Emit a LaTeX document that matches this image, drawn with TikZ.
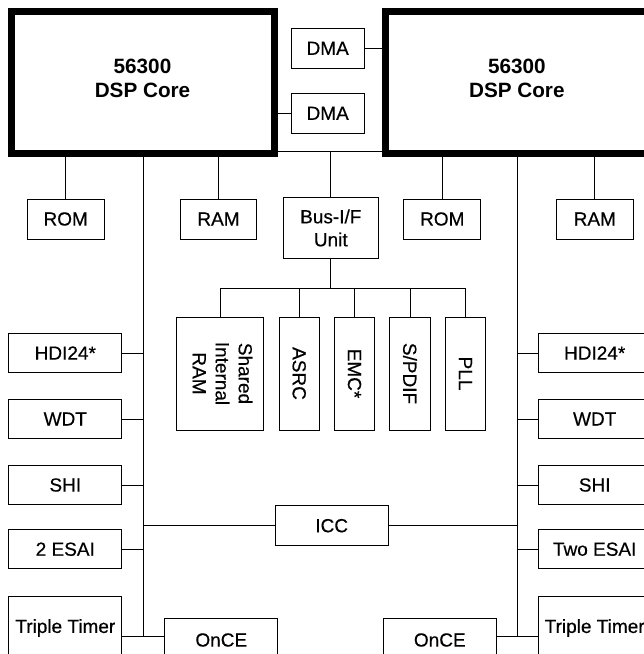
\documentclass[tikz,border=0pt]{standalone}
\usepackage{fontspec}
\setmainfont{Liberation Sans}
\newfontfamily\medfont{Liberation Sans}[FakeBold=0.45]
\usepackage{tikz}

\begin{document}
\begin{tikzpicture}[x=1pt, y=-1pt,
    blk/.style={draw, line width=1pt, inner sep=0pt, align=center,
        font=\medfont\fontsize{19}{23}\selectfont},
    core/.style={draw, line width=7pt, inner sep=0pt,
        minimum width=263pt, minimum height=142pt},
    corelbl/.style={align=center, inner sep=0pt,
        font=\fontsize{20.7}{24}\selectfont\bfseries},
    mem/.style={blk, minimum width=76.7pt, minimum height=40pt},
    per/.style={blk, minimum width=112.7pt, minimum height=39.4pt},
    sub/.style={blk, minimum width=40.3pt, minimum height=113pt},
    wire/.style={line width=1pt}]
    \useasboundingbox (0,0) rectangle (644,654);

    % Cores
    \node[core] (core1) at (142.5,82.7) {};
    \node[core] (core2) at (516.8,82.7) {};
    \node[corelbl] (lbl1) at ([yshift=4pt]core1.center) {56300\\DSP Core};
    \node[corelbl] (lbl2) at ([yshift=4pt]core2.center) {56300\\DSP Core};

    % DMA
    \node[blk, minimum width=73.3pt, minimum height=40pt] (dma1) at (327.7,48.3) {DMA};
    \node[blk, minimum width=73.3pt, minimum height=40pt] (dma2) at (327.7,113.3) {DMA};
    \draw[wire] (dma1.east) -- (dma1.east -| core2.west);
    \draw[wire] (dma2.west) -- (dma2.west -| core1.east);

    % Bus between the cores
    \coordinate (bus) at (330.8,151);
    \draw[wire] (core1.east |- bus) -- (core2.west |- bus);

    % Memories
    \node[mem] (rom1) at (65.7,219) {ROM};
    \node[mem] (ram1) at (218.5,219) {RAM};
    \node[mem] (rom2) at (442.3,219) {ROM};
    \node[mem] (ram2) at (594.8,219) {RAM};
    \draw[wire] (rom1.north) -- (rom1.north |- core1.south);
    \draw[wire] (ram1.north) -- (ram1.north |- core1.south);
    \draw[wire] (rom2.north) -- (rom2.north |- core2.south);
    \draw[wire] (ram2.north) -- (ram2.north |- core2.south);

    % Bus interface and shared blocks
    \node[blk, minimum width=95pt, minimum height=60.6pt] (bif) at (330.8,228) {Bus-I/F\\Unit};
    \draw[wire] (bif.north) -- (bus);
    \coordinate (hbar) at (330.8,288.3);
    \draw[wire] (bif.south) -- (hbar);

    \node[sub, minimum width=86.7pt] (sram) at (220.3,373.5)
        {\rotatebox{-90}{\begin{tabular}{@{}c@{}}Shared\\Internal\\RAM\end{tabular}}};
    \node[sub] (asrc) at (299.2,373.5) {\rotatebox{-90}{ASRC}};
    \node[sub] (emc) at (354.5,373.5) {\rotatebox{-90}{EMC*}};
    \node[sub] (spdif) at (410,373.5) {\rotatebox{-90}{S/PDIF}};
    \node[sub] (pll) at (465.5,373.5) {\rotatebox{-90}{PLL}};
    \draw[wire] (sram.north |- hbar) -- (pll.north |- hbar);
    \draw[wire] (sram.north) -- (sram.north |- hbar);
    \draw[wire] (asrc.north) -- (asrc.north |- hbar);
    \draw[wire] (emc.north) -- (emc.north |- hbar);
    \draw[wire] (spdif.north) -- (spdif.north |- hbar);
    \draw[wire] (pll.north) -- (pll.north |- hbar);

    % Peripheral buses
    \coordinate (lbus) at (143.3,636);
    \coordinate (rbus) at (517.3,636);
    \draw[wire] (lbus |- core1.south) -- (lbus);
    \draw[wire] (rbus |- core2.south) -- (rbus);

    % Left peripherals
    \node[per] (hdi1) at (65.3,353) {HDI24*};
    \node[per] (wdt1) at (65.3,419) {WDT};
    \node[per] (shi1) at (65.3,485) {SHI};
    \node[per] (esai1) at (65.3,549.2) {2 ESAI};
    \node[per, minimum height=63pt] (tt1) at (65.3,628) {Triple Timer};
    \node[per, minimum height=43.4pt] (once1) at (221.3,640) {OnCE};
    \draw[wire] (hdi1.east) -- (hdi1.east -| lbus);
    \draw[wire] (wdt1.east) -- (wdt1.east -| lbus);
    \draw[wire] (shi1.east) -- (shi1.east -| lbus);
    \draw[wire] (esai1.east) -- (esai1.east -| lbus);
    \draw[wire] (tt1.east |- lbus) -- (once1.west |- lbus);

    % Right peripherals
    \node[per] (hdi2) at (594.7,353) {HDI24*};
    \node[per] (wdt2) at (594.7,419) {WDT};
    \node[per] (shi2) at (594.7,485) {SHI};
    \node[per] (esai2) at (594.7,549.2) {Two ESAI};
    \node[per, minimum height=63pt] (tt2) at (594.7,628) {Triple Timer};
    \node[per, minimum height=43.4pt] (once2) at (439.8,640) {OnCE};
    \draw[wire] (hdi2.west) -- (hdi2.west -| rbus);
    \draw[wire] (wdt2.west) -- (wdt2.west -| rbus);
    \draw[wire] (shi2.west) -- (shi2.west -| rbus);
    \draw[wire] (esai2.west) -- (esai2.west -| rbus);
    \draw[wire] (tt2.west |- rbus) -- (once2.east |- rbus);

    % Inter-core communication
    \node[blk, minimum width=113.3pt, minimum height=40pt] (icc) at (331.7,525.7) {ICC};
    \draw[wire] (icc.west) -- (icc.west -| lbus);
    \draw[wire] (icc.east) -- (icc.east -| rbus);
\end{tikzpicture}
\end{document}
